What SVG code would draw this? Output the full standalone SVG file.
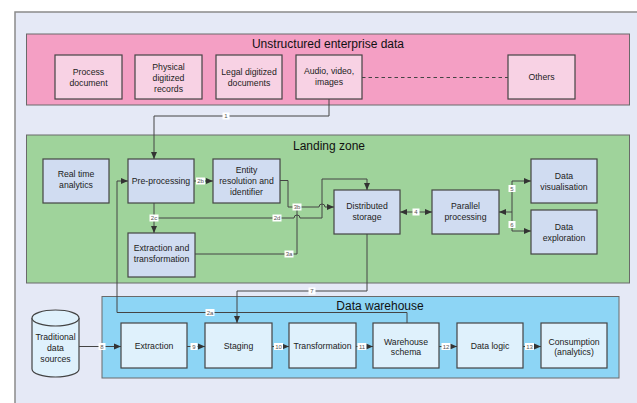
<svg xmlns="http://www.w3.org/2000/svg" width="637" height="403" viewBox="0 0 637 403">
<defs>
<marker id="ah" markerUnits="userSpaceOnUse" markerWidth="8" markerHeight="8" refX="7" refY="4" orient="auto">
<path d="M0,1 L7,4 L0,7 Z" fill="#333"/>
</marker>
<marker id="ahs" markerUnits="userSpaceOnUse" markerWidth="8" markerHeight="8" refX="7" refY="4" orient="auto-start-reverse">
<path d="M0,1 L7,4 L0,7 Z" fill="#333"/>
</marker>
<style>
text{font-family:"Liberation Sans",Arial,sans-serif;fill:#222;text-anchor:middle}
.t{font-size:8.7px}
.ttl{font-size:12px;fill:#111}
.lbl{font-size:6px;fill:#555}
.lb{fill:#fff}
.cont{stroke:#6a6a6a;stroke-width:1}
.pk{fill:#f8d2e4;stroke:#444;stroke-width:1.2}
.gb{fill:#d0dcf1;stroke:#444;stroke-width:1.2}
.bb{fill:#dff1fc;stroke:#444;stroke-width:1.2}
.c{fill:none;stroke:#444;stroke-width:1}
</style>
</defs>
<rect x="15" y="12" width="640" height="400" fill="#e5e9f6" stroke="#8a8a8a" stroke-width="1.5"/>

<g id="unstructured">
<rect class="cont" x="26.5" y="34" width="603" height="71" fill="#f49fc4"/>
<text class="ttl" x="328" y="47.5">Unstructured enterprise data</text>
</g>
<g id="landing">
<rect class="cont" x="26.5" y="135" width="603" height="148" fill="#9fd39b"/>
<text class="ttl" x="329" y="150">Landing zone</text>
</g>
<g id="warehouse">
<rect class="cont" x="102" y="296.5" width="517" height="81.5" fill="#8dd5f5"/>
<text class="ttl" x="380" y="310">Data warehouse</text>
</g>

<g id="n-process"><rect class="pk" x="55" y="55" width="67" height="44"/><text class="t" x="88.5" y="75">Process</text><text class="t" x="88.5" y="86">document</text></g>
<g id="n-physical"><rect class="pk" x="135" y="55" width="67" height="44"/><text class="t" x="168.5" y="70">Physical</text><text class="t" x="168.5" y="81">digitized</text><text class="t" x="168.5" y="92">records</text></g>
<g id="n-legal"><rect class="pk" x="216" y="55" width="66" height="44"/><text class="t" x="249" y="75">Legal digitized</text><text class="t" x="249" y="85.5">documents</text></g>
<g id="n-audio"><rect class="pk" x="296" y="55" width="66" height="44"/><text class="t" x="329" y="74">Audio, video,</text><text class="t" x="329" y="84.5">images</text></g>
<g id="n-others"><rect class="pk" x="508" y="55" width="67" height="44"/><text class="t" x="541.5" y="80">Others</text></g>

<g id="n-realtime"><rect class="gb" x="43" y="159" width="66" height="44"/><text class="t" x="76" y="177">Real time</text><text class="t" x="76" y="188">analytics</text></g>
<g id="n-pre"><rect class="gb" x="128" y="159" width="66" height="44"/><text class="t" x="161" y="184">Pre-processing</text></g>
<g id="n-entity"><rect class="gb" x="213" y="159" width="67" height="44"/><text class="t" x="246.5" y="173">Entity</text><text class="t" x="246.5" y="184">resolution and</text><text class="t" x="246.5" y="195">identifier</text></g>
<g id="n-extract-t"><rect class="gb" x="128" y="233" width="67" height="44"/><text class="t" x="161.5" y="251">Extraction and</text><text class="t" x="161.5" y="262">transformation</text></g>
<g id="n-storage"><rect class="gb" x="334" y="190" width="66" height="44"/><text class="t" x="367" y="209">Distributed</text><text class="t" x="367" y="220">storage</text></g>
<g id="n-parallel"><rect class="gb" x="432" y="190" width="67" height="44"/><text class="t" x="465.5" y="209">Parallel</text><text class="t" x="465.5" y="220">processing</text></g>
<g id="n-vis"><rect class="gb" x="531" y="159" width="66" height="44"/><text class="t" x="564" y="179">Data</text><text class="t" x="564" y="190">visualisation</text></g>
<g id="n-explore"><rect class="gb" x="531" y="210" width="66" height="44"/><text class="t" x="564" y="230">Data</text><text class="t" x="564" y="241">exploration</text></g>

<g id="n-trad">
<path d="M32,318 V369 A23.5,8 0 0 0 79,369 V318" fill="#dff1fc" stroke="#444" stroke-width="1.2"/>
<ellipse cx="55.5" cy="318" rx="23.5" ry="8" fill="#dff1fc" stroke="#444" stroke-width="1.2"/>
<text class="t" x="55.5" y="340">Traditional</text><text class="t" x="55.5" y="351">data</text><text class="t" x="55.5" y="362">sources</text>
</g>
<g id="n-extraction"><rect class="bb" x="121" y="323" width="66" height="45"/><text class="t" x="154" y="349">Extraction</text></g>
<g id="n-staging"><rect class="bb" x="205" y="323" width="67" height="45"/><text class="t" x="238.5" y="349">Staging</text></g>
<g id="n-transformation"><rect class="bb" x="289" y="323" width="67" height="45"/><text class="t" x="322.5" y="349">Transformation</text></g>
<g id="n-schema"><rect class="bb" x="373" y="323" width="66" height="45"/><text class="t" x="406" y="345">Warehouse</text><text class="t" x="406" y="355">schema</text></g>
<g id="n-logic"><rect class="bb" x="457" y="323" width="66" height="45"/><text class="t" x="490" y="349">Data logic</text></g>
<g id="n-consumption"><rect class="bb" x="541" y="323" width="66" height="45"/><text class="t" x="574" y="345">Consumption</text><text class="t" x="574" y="355">(analytics)</text></g>

<g id="connectors">
<path class="c" d="M362,77.5 H508" stroke-dasharray="3.5,3" stroke="#555"/>
<path class="c" d="M329,99 V116 H154 V159" marker-end="url(#ah)"/>
<path class="c" d="M194,181 H213" marker-end="url(#ah)"/>
<path class="c" d="M154,203 V233" marker-end="url(#ah)"/>
<path class="c" d="M154,218 H294 A3,3 0 0 1 300,218 H322 V179 H367 V190" marker-end="url(#ah)"/>
<path class="c" d="M280,180.5 H288 V207 H319 A3,3 0 0 1 325,207 H334" marker-end="url(#ah)"/>
<path class="c" d="M195,254 H297 V207"/>
<path class="c" d="M400,212 H432" marker-start="url(#ahs)" marker-end="url(#ah)"/>
<path class="c" d="M512,212 H499" marker-end="url(#ah)"/>
<path class="c" d="M531,181 H512 V231 H531" marker-start="url(#ahs)" marker-end="url(#ah)"/>
<path class="c" d="M367,234 V291 H237 V323" marker-end="url(#ah)"/>
<path class="c" d="M407,323 V312.5 H117 V181 H128" marker-end="url(#ah)"/>
<path class="c" d="M79,346.5 H121" marker-end="url(#ah)"/>
<path class="c" d="M187,346.5 H205" marker-end="url(#ah)"/>
<path class="c" d="M272,346.5 H289" marker-end="url(#ah)"/>
<path class="c" d="M356,346.5 H373" marker-end="url(#ah)"/>
<path class="c" d="M439,346.5 H457" marker-end="url(#ah)"/>
<path class="c" d="M523,346.5 H541" marker-end="url(#ah)"/>

<rect class="lb" x="222.5" y="112.5" width="7" height="7"/><text class="lbl" x="226" y="118">1</text>
<rect class="lb" x="196" y="177.5" width="9" height="7"/><text class="lbl" x="200.5" y="183">2b</text>
<rect class="lb" x="149.5" y="214.5" width="9" height="7"/><text class="lbl" x="154" y="220">2c</text>
<rect class="lb" x="272.5" y="214.5" width="9" height="7"/><text class="lbl" x="277" y="220">2d</text>
<rect class="lb" x="292.5" y="203.5" width="9" height="7"/><text class="lbl" x="297" y="209">3b</text>
<rect class="lb" x="284.5" y="250.5" width="9" height="7"/><text class="lbl" x="289" y="256">3a</text>
<rect class="lb" x="412.5" y="208.5" width="7" height="7"/><text class="lbl" x="416" y="214">4</text>
<rect class="lb" x="508.5" y="185" width="7" height="7"/><text class="lbl" x="512" y="190.5">5</text>
<rect class="lb" x="508.5" y="221" width="7" height="7"/><text class="lbl" x="512" y="226.5">6</text>
<rect class="lb" x="308.5" y="287.5" width="7" height="7"/><text class="lbl" x="312" y="293">7</text>
<rect class="lb" x="205.5" y="309" width="9" height="7"/><text class="lbl" x="210" y="314.5">2a</text>
<rect class="lb" x="98.5" y="343" width="7" height="7"/><text class="lbl" x="102" y="348.5">8</text>
<rect class="lb" x="190.5" y="343" width="7" height="7"/><text class="lbl" x="194" y="348.5">9</text>
<rect class="lb" x="274" y="343" width="9" height="7"/><text class="lbl" x="278.5" y="348.5">10</text>
<rect class="lb" x="357.5" y="343" width="9" height="7"/><text class="lbl" x="362" y="348.5">11</text>
<rect class="lb" x="441.5" y="343" width="9" height="7"/><text class="lbl" x="446" y="348.5">12</text>
<rect class="lb" x="525" y="343" width="9" height="7"/><text class="lbl" x="529.5" y="348.5">13</text>
</g>
</svg>
